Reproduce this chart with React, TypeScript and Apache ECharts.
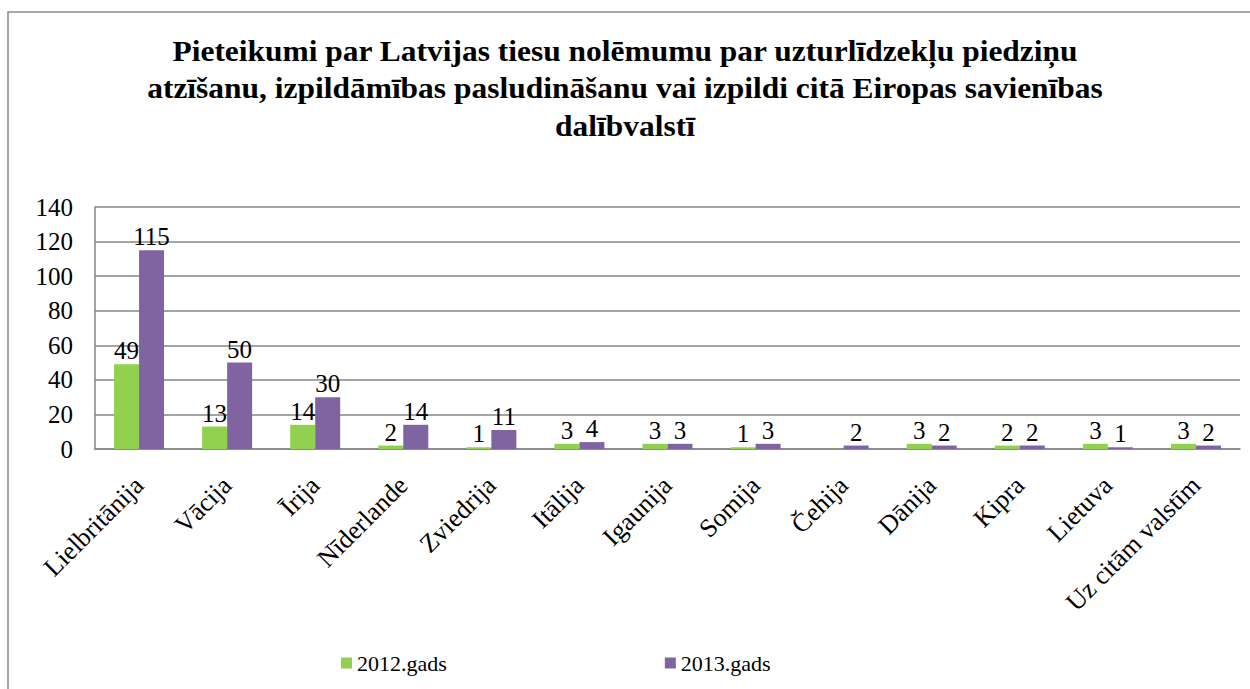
import React, { useEffect, useRef } from "react";
import * as echarts from "echarts";

const categories = [
  "Lielbritānija", "Vācija", "Īrija", "Nīderlande", "Zviedrija", "Itālija",
  "Igaunija", "Somija", "Čehija", "Dānija", "Kipra", "Lietuva", "Uz citām valstīm",
];
const values2012: (number | null)[] = [49, 13, 14, 2, 1, 3, 3, 1, null, 3, 2, 3, 3];
const values2013: number[] = [115, 50, 30, 14, 11, 4, 3, 3, 2, 2, 2, 1, 2];
const seriesNames = ["2012.gads", "2013.gads"];
const titleLines = [
  "Pieteikumi par Latvijas tiesu nolēmumu par uzturlīdzekļu piedziņu",
  "atzīšanu, izpildāmības pasludināšanu vai izpildi citā Eiropas savienības",
  "dalībvalstī",
];

const FONT = "Liberation Serif";

export default function App() {
  const ref = useRef<HTMLDivElement>(null);
  useEffect(() => {
    if (!ref.current) return;
    const chart = echarts.init(ref.current, undefined, { renderer: "svg" });
    const labelStyle = {
      show: true,
      position: "top" as const,
      distance: 1,
      color: "#000",
      fontFamily: FONT,
      fontSize: 25,
    };
    chart.setOption({
      animation: false,
      backgroundColor: "#fff",
      graphic: [
        {
          type: "rect",
          shape: { x: 8, y: 12, width: 1260, height: 700 },
          style: { fill: "none", stroke: "#8a8a8a", lineWidth: 1.5 },
          silent: true,
        },
        ...titleLines.map((t, i) => ({
          type: "text",
          x: 625,
          y: 51 + i * 37.5,
          scaleX: 1.085,
          silent: true,
          style: {
            text: t,
            textAlign: "center",
            textVerticalAlign: "middle",
            fontFamily: FONT,
            fontSize: 29,
            fontWeight: "bold",
            fill: "#000",
          },
        })),
      ],
      legend: {
        left: 336,
        top: 647,
        itemGap: 218,
        itemWidth: 11,
        itemHeight: 11,
        icon: "rect",
        textStyle: { fontFamily: FONT, fontSize: 22, color: "#000" },
        data: seriesNames,
      },
      grid: { left: 95, right: 10, top: 207, bottom: 240, containLabel: false },
      xAxis: {
        type: "category",
        data: categories,
        axisLine: { lineStyle: { color: "#868686", width: 1.5 } },
        axisTick: { show: false },
        axisLabel: {
          rotate: 45,
          interval: 0,
          margin: 32,
          color: "#000",
          fontFamily: FONT,
          fontSize: 26,
        },
      },
      yAxis: {
        type: "value",
        min: 0,
        max: 140,
        interval: 20,
        axisLine: { show: true, lineStyle: { color: "#868686", width: 1.5 } },
        axisTick: { show: false },
        splitLine: { lineStyle: { color: "#868686", width: 1.5 } },
        axisLabel: {
          color: "#000",
          fontFamily: FONT,
          fontSize: 25,
          margin: 22,
        },
      },
      series: [
        {
          name: seriesNames[0],
          type: "bar",
          data: values2012,
          itemStyle: { color: "#92D050" },
          barWidth: 25,
          barGap: "0%",
          label: labelStyle,
        },
        {
          name: seriesNames[1],
          type: "bar",
          data: values2013,
          itemStyle: { color: "#8064A2" },
          barWidth: 25,
          barGap: "0%",
          label: labelStyle,
        },
      ],
    });
    return () => chart.dispose();
  }, []);
  return (
    <div
      ref={ref}
      style={{ position: "fixed", left: 0, top: 0, width: 1250, height: 689 }}
    />
  );
}
